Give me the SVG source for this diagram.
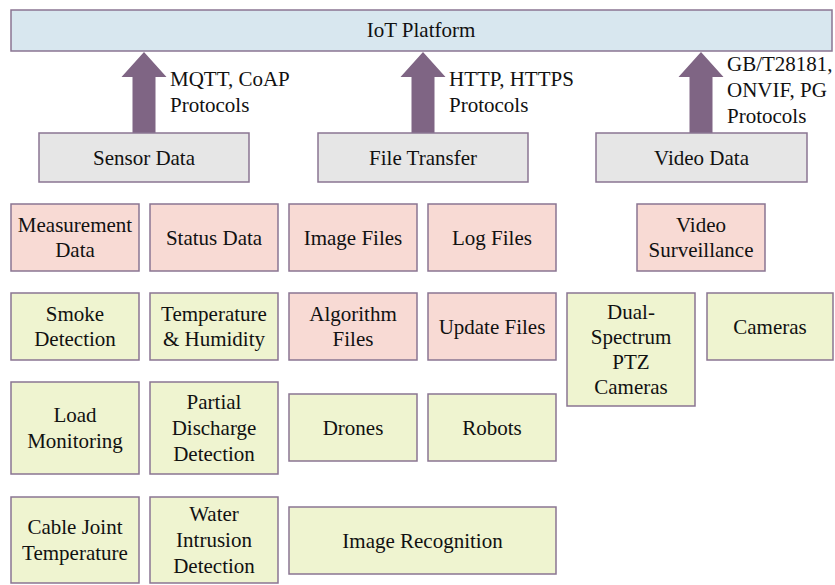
<svg xmlns="http://www.w3.org/2000/svg" width="835" height="585" viewBox="0 0 835 585">
<style>
rect{stroke:#8A7592;stroke-width:1.5}
.b{fill:#D8E7EF}
.g{fill:#E6E6E6}
.p{fill:#F8DAD4}
.y{fill:#EFF4D0}
text{font-family:"Times New Roman",Times,Tinos,"Liberation Serif",serif;font-size:21px;fill:#111}
.c{text-anchor:middle}
.arr{fill:#7F6584}
</style>
<rect width="835" height="585" fill="#fff" style="stroke:none"/>
<g id="iot"><rect class="b" x="11" y="10" width="821" height="41"/><text class="c" x="421" y="37">IoT Platform</text></g>
<g id="connectors">
<polygon class="arr" points="144,52 166.5,77 155.5,77 155.5,133 132.5,133 132.5,77 121.5,77"/>
<polygon class="arr" points="423,52 445.5,77 434.5,77 434.5,133 411.5,133 411.5,77 400.5,77"/>
<polygon class="arr" points="701,52 723.5,77 712.5,77 712.5,133 689.5,133 689.5,77 678.5,77"/>
<text x="170" y="86">MQTT, CoAP</text><text x="170" y="112">Protocols</text>
<text x="449" y="86">HTTP, HTTPS</text><text x="449" y="112">Protocols</text>
<text x="727" y="71">GB/T28181,</text><text x="727" y="97">ONVIF, PG</text><text x="727" y="123">Protocols</text>
</g>
<g id="sensor"><rect class="g" x="39" y="133" width="210" height="49"/><text class="c" x="144" y="165">Sensor Data</text></g>
<g id="file"><rect class="g" x="318" y="133" width="210" height="49"/><text class="c" x="423" y="165">File Transfer</text></g>
<g id="video"><rect class="g" x="596" y="133" width="211" height="49"/><text class="c" x="701.5" y="165">Video Data</text></g>

<g id="measurement"><rect class="p" x="11" y="204" width="128" height="67"/><text class="c" x="75" y="232">Measurement</text><text class="c" x="75" y="257">Data</text></g>
<g id="status"><rect class="p" x="150" y="204" width="128" height="67"/><text class="c" x="214" y="245">Status Data</text></g>
<g id="imagefiles"><rect class="p" x="289" y="204" width="128" height="67"/><text class="c" x="353" y="245">Image Files</text></g>
<g id="logfiles"><rect class="p" x="428" y="204" width="128" height="67"/><text class="c" x="492" y="245">Log Files</text></g>
<g id="surveillance"><rect class="p" x="637" y="204" width="128" height="67"/><text class="c" x="701" y="232">Video</text><text class="c" x="701" y="257">Surveillance</text></g>

<g id="smoke"><rect class="y" x="11" y="293" width="128" height="67"/><text class="c" x="75" y="321">Smoke</text><text class="c" x="75" y="346">Detection</text></g>
<g id="temphum"><rect class="y" x="150" y="293" width="128" height="67"/><text class="c" x="214" y="321">Temperature</text><text class="c" x="214" y="346">&amp; Humidity</text></g>
<g id="algorithm"><rect class="p" x="289" y="293" width="128" height="67"/><text class="c" x="353" y="321">Algorithm</text><text class="c" x="353" y="346">Files</text></g>
<g id="update"><rect class="p" x="428" y="293" width="128" height="67"/><text class="c" x="492" y="334">Update Files</text></g>
<g id="dual"><rect class="y" x="567" y="293" width="128" height="113"/><text class="c" x="631" y="319">Dual-</text><text class="c" x="631" y="344">Spectrum</text><text class="c" x="631" y="369">PTZ</text><text class="c" x="631" y="394">Cameras</text></g>
<g id="cameras"><rect class="y" x="707" y="293" width="126" height="67"/><text class="c" x="770" y="334">Cameras</text></g>

<g id="load"><rect class="y" x="11" y="382" width="128" height="92"/><text class="c" x="75" y="422">Load</text><text class="c" x="75" y="448">Monitoring</text></g>
<g id="partial"><rect class="y" x="150" y="382" width="128" height="92"/><text class="c" x="214" y="409">Partial</text><text class="c" x="214" y="435">Discharge</text><text class="c" x="214" y="461">Detection</text></g>
<g id="drones"><rect class="y" x="289" y="394" width="128" height="67"/><text class="c" x="353" y="435">Drones</text></g>
<g id="robots"><rect class="y" x="428" y="394" width="128" height="67"/><text class="c" x="492" y="435">Robots</text></g>

<g id="cable"><rect class="y" x="11" y="497" width="128" height="86"/><text class="c" x="75" y="534">Cable Joint</text><text class="c" x="75" y="560">Temperature</text></g>
<g id="water"><rect class="y" x="150" y="497" width="128" height="86"/><text class="c" x="214" y="521">Water</text><text class="c" x="214" y="547">Intrusion</text><text class="c" x="214" y="573">Detection</text></g>
<g id="imagerec"><rect class="y" x="289" y="507" width="267" height="67"/><text class="c" x="422.5" y="548">Image Recognition</text></g>
</svg>
